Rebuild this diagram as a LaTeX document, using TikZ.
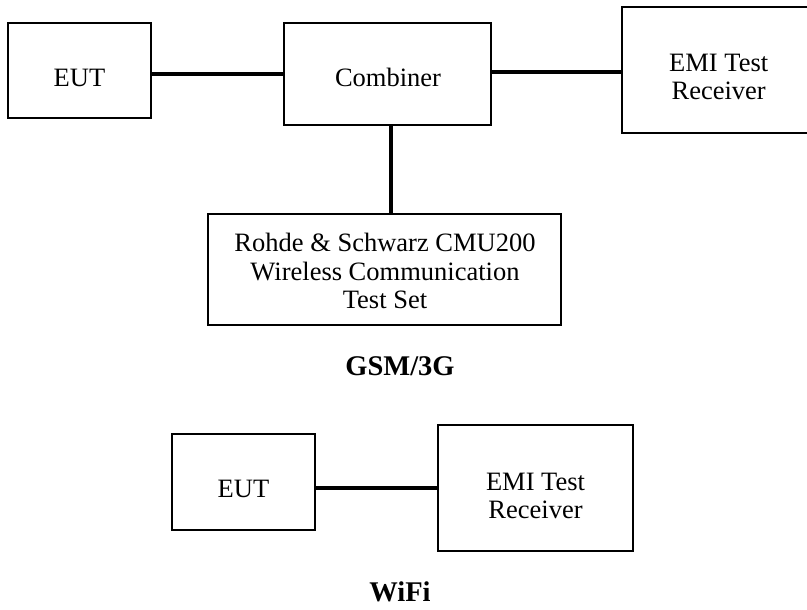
\documentclass[tikz,border=0pt]{standalone}
\usepackage{fontspec}
\setmainfont{Liberation Serif}
\begin{document}
\begin{tikzpicture}[x=1pt,y=-1pt,
  box/.style={draw, line width=2pt, rectangle, inner sep=0pt},
  lbl/.style={font=\fontsize{26.5}{28.5}\selectfont, align=center, inner sep=0pt},
  ttl/.style={font=\fontsize{28.5}{30}\selectfont\bfseries, inner sep=0pt},
  wire/.style={line width=3.5pt}]
\useasboundingbox (0,0) rectangle (807,610);
\clip (0,0) rectangle (807,610);
% GSM/3G setup
\node[box, minimum width=143pt, minimum height=95pt] (eut1) at (79.5,70.5) {};
\node[lbl] (eut1t) at (79.5,77.5) {EUT};
\node[box, minimum width=207pt, minimum height=102pt] (comb) at (387.5,74) {};
\node[lbl] (combt) at (388,77) {Combiner};
\node[box, minimum width=193pt, minimum height=126pt] (emi1) at (718.5,70) {};
\node[lbl] (emi1t) at (718.7,77) {EMI Test\\Receiver};
\node[box, minimum width=353pt, minimum height=111pt] (rohde) at (384.5,269.5) {};
\node[lbl] (rohdet) at (385,271) {Rohde \& Schwarz CMU200\\Wireless Communication\\Test Set};
\node[ttl] (gsm) at (400,366) {GSM/3G};
\draw[wire] (comb.west) -- (comb.west -| eut1.east);
\draw[wire] ([yshift=2pt]comb.east) -- ([yshift=2pt]comb.east -| emi1.west);
\draw[wire] ([xshift=3.5pt]comb.south) -- ([xshift=3.5pt]comb.south |- rohde.north);
% WiFi setup
\node[box, minimum width=143pt, minimum height=96pt] (eut2) at (243.5,482) {};
\node[lbl] (eut2t) at (243.5,489) {EUT};
\node[box, minimum width=195pt, minimum height=126pt] (emi2) at (535.5,488) {};
\node[lbl] (emi2t) at (535.5,496) {EMI Test\\Receiver};
\node[ttl] (wifi) at (400,592) {WiFi};
\draw[wire] (emi2.west) -- (emi2.west -| eut2.east);
\end{tikzpicture}
\end{document}
